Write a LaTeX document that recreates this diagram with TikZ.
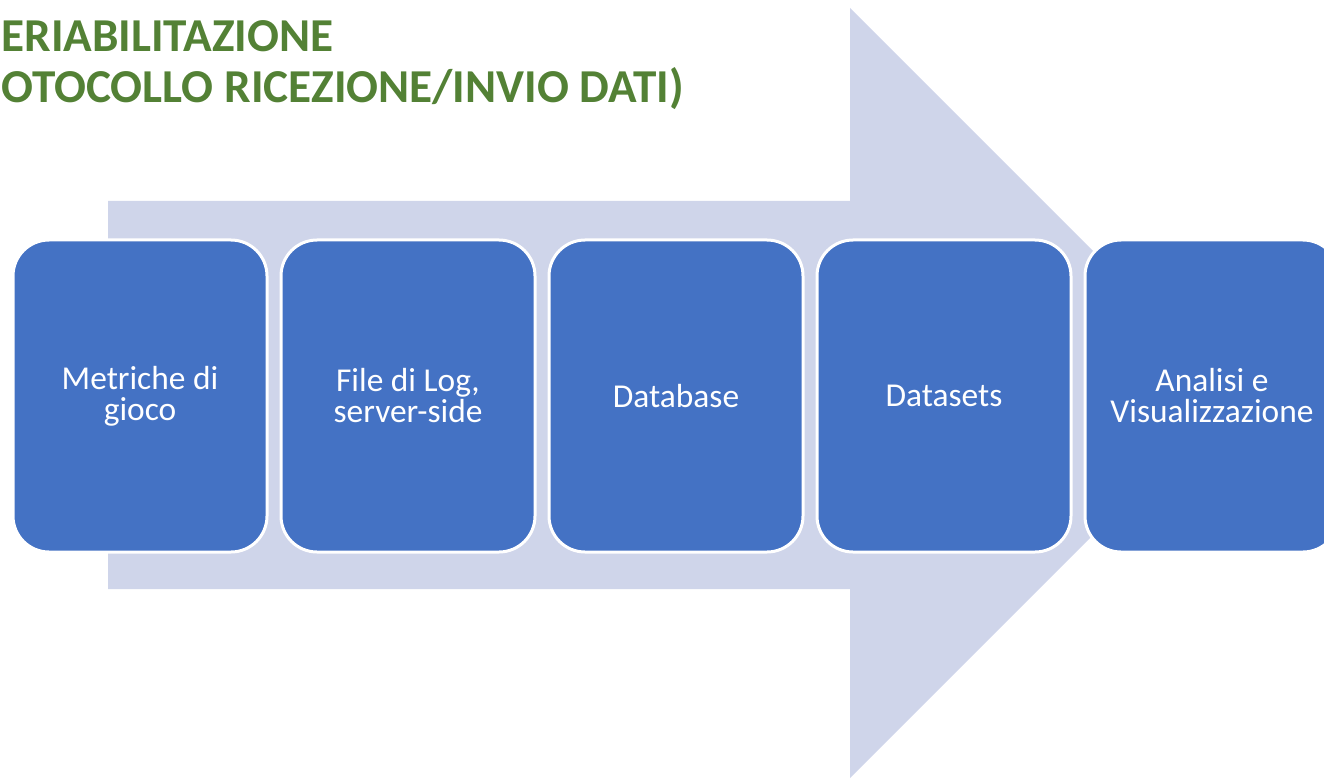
\documentclass[tikz,border=0pt]{standalone}
\usepackage{fontspec}
\setmainfont{Carlito}
\usetikzlibrary{positioning}
\definecolor{arrowbg}{HTML}{CFD5EA}
\definecolor{boxblue}{HTML}{4472C4}
\definecolor{titlegreen}{HTML}{538135}

\begin{document}
\begin{tikzpicture}[x=0.5pt, y=-0.5pt,
            stepnode/.style={rectangle, rounded corners=18pt, fill=boxblue, draw=white, line width=1.5pt, text=white, minimum width=127pt, minimum height=156pt, align=center, font=\fontsize{16.7}{15.5}\selectfont},
            titletext/.style={anchor=base west, inner sep=0pt, text=titlegreen, font=\fontsize{23.6}{28}\selectfont\bfseries},
            ]
            \useasboundingbox (0,0) rectangle (1324,781);

            %Background arrow
            \fill[arrowbg] (108,201) -- (850,201) -- (850,8) -- (1235,393)
                -- (850,778) -- (850,589) -- (108,589) -- cycle;

            %Title
            \node[titletext] (title1) at (1,52) {ERIABILITAZIONE};
            \node[titletext] (title2) at (1,103) {OTOCOLLO RICEZIONE/INVIO DATI)};

            %Nodes
            \node[stepnode]      (metriche)                          at (140,396) {Metriche di\\gioco};
            \node[stepnode]      (logfile)   [right=5.5pt of metriche] {File di Log,\\server-side};
            \node[stepnode]      (database)  [right=5.5pt of logfile]  {Database};
            \node[stepnode]      (datasets)  [right=5.5pt of database] {Datasets};
            \node[stepnode]      (analisi)   [right=5.5pt of datasets] {Analisi e\\Visualizzazione};
          \end{tikzpicture}
\end{document}
